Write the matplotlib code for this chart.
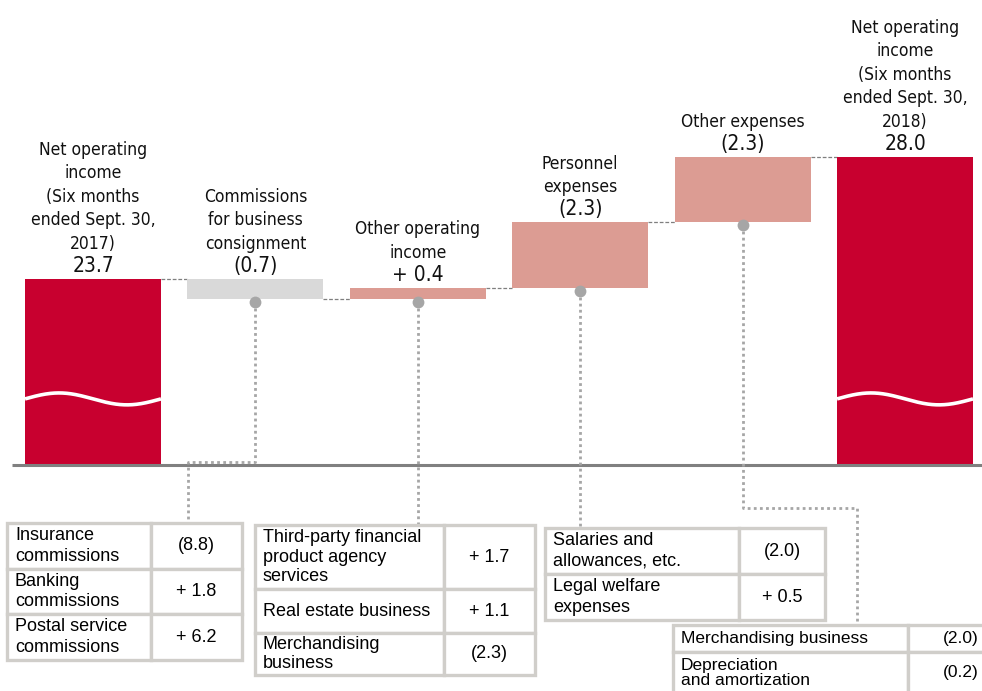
import numpy as np
import matplotlib
matplotlib.use("Agg")
import matplotlib.pyplot as plt
from matplotlib.patches import Rectangle
from matplotlib import font_manager as fm

# ---------------- data ----------------
categories = [
    "Net operating\nincome\n(Six months\nended Sept. 30,\n2017)",
    "Commissions\nfor business\nconsignment",
    "Other operating\nincome",
    "Personnel\nexpenses",
    "Other expenses",
    "Net operating\nincome\n(Six months\nended Sept. 30,\n2018)",
]
start_value = 23.7
changes = [-0.7, 0.4, 2.3, 2.3]
end_value = 28.0
value_labels = ["23.7", "(0.7)", "+ 0.4", "(2.3)", "(2.3)", "28.0"]

table1_items = ["Insurance\ncommissions", "Banking\ncommissions", "Postal service\ncommissions"]
table1_values = ["(8.8)", "+ 1.8", "+ 6.2"]
table2_items = ["Third-party financial\nproduct agency\nservices", "Real estate business",
                "Merchandising\nbusiness"]
table2_values = ["+ 1.7", "+ 1.1", "(2.3)"]
table3_items = ["Salaries and\nallowances, etc.", "Legal welfare\nexpenses"]
table3_values = ["(2.0)", "+ 0.5"]
table4_items = ["Merchandising business", "Depreciation\nand amortization"]
table4_values = ["(2.0)", "(0.2)"]

# ---------------- style ----------------
RED = "#C8002F"
PINK = "#DC9C93"
GREY_BAR = "#D9D9D9"
DOT = "#A6A6A6"
BORDER = "#D0CECA"
TABLE_FONT = ["Liberation Sans", "DejaVu Sans"]

# pick a condensed face if one is installed
cond = [f for f in fm.fontManager.ttflist
        if ("Condensed" in f.name or "Narrow" in f.name or f.stretch in ("condensed", "semi-condensed"))
        and f.weight in (400, "normal", "regular") and f.style == "normal"]
if cond:
    LABEL_FONT = {"fontproperties": fm.FontProperties(fname=cond[0].fname)}
else:
    LABEL_FONT = {"family": ["Liberation Sans", "DejaVu Sans"]}


def label_font(size):
    if "fontproperties" in LABEL_FONT:
        fp = LABEL_FONT["fontproperties"].copy()
        fp.set_size(size)
        return {"fontproperties": fp}
    return {"family": LABEL_FONT["family"], "fontsize": size}


W_PX, H_PX = 982, 691
fig = plt.figure(figsize=(W_PX / 100, H_PX / 100), dpi=100)
fig.patch.set_facecolor("white")

ax = fig.add_axes([0, 0, 1, 1])
ax.axis("off")
ax.set_xlim(-0.5727, 5.474)
k = 28.37  # px per unit
ax.set_ylim(start_value - 412 / k, start_value + 279 / k)
base = start_value - 186 / k  # broken-axis baseline
bw = 0.837

n = len(categories)
xs = np.arange(n)

# totals
tot_x = [xs[0], xs[-1]]
tot_v = [start_value, end_value]
ax.bar(tot_x, [v - base for v in tot_v], bottom=base, width=bw, color=RED, zorder=2)

# wave break marks
t = np.linspace(0, 1, 200)
for x in tot_x:
    ax.plot(x - bw / 2 + t * bw, base + 2.33 + 0.21 * np.sin(2 * np.pi * t),
            color="white", lw=2.6, zorder=3, solid_capstyle="butt")

# floating bars
levels = [start_value]
tops = [start_value]
bottoms = [base]
running = start_value
for i, c in enumerate(changes):
    new = running + c
    lo, hi = min(running, new), max(running, new)
    ax.bar(xs[i + 1], hi - lo, bottom=lo, width=bw,
           color=GREY_BAR if c < 0 else PINK, zorder=2)
    tops.append(hi)
    bottoms.append(lo)
    running = new
    levels.append(running)
tops.append(end_value)
bottoms.append(base)

# connectors
for i in range(n - 1):
    ax.plot([xs[i] + bw / 2, xs[i + 1] - bw / 2], [levels[i], levels[i]],
            color="#7F7F7F", lw=0.9, ls=(0, (3, 1.5)), zorder=1)

# baseline
ax.hlines(base, -0.5, ax.get_xlim()[1], color="#808080", lw=2.2, zorder=4)

# labels
for i in range(n):
    ax.annotate(value_labels[i], (xs[i], tops[i]), xytext=(0, 13),
                textcoords="offset pixels", ha="center", va="center",
                color="#111111", **label_font(15))
    ax.annotate(categories[i], (xs[i], tops[i]), xytext=(0, 26),
                textcoords="offset pixels", ha="center", va="bottom",
                linespacing=1.4, color="#111111", **label_font(12.5))

# ---------------- overlay (pixel coords, y down) ----------------
ov = fig.add_axes([0, 0, 1, 1], facecolor="none")
ov.set_xlim(0, W_PX)
ov.set_ylim(H_PX, 0)
ov.axis("off")


def to_px(x, y):
    dx, dy = ax.transData.transform((x, y))
    return ov.transData.inverted().transform((dx, dy))


dot_pts = []
for i in range(1, n - 1):
    px, py = to_px(xs[i], bottoms[i])
    dot_pts.append((px, py + 3))

paths = [
    [(None, None), ("x", 462), (188, 462), (188, 523)],
    [(None, None), ("x", 525)],
    [(None, None), ("x", 528)],
    [(None, None), ("x", 508), (857, 508), (857, 625)],
]
for (px, py), p in zip(dot_pts, paths):
    pts = [(px, py)]
    for a, b in p[1:]:
        pts.append((px if a == "x" else a, b))
    ov.plot([q[0] for q in pts], [q[1] for q in pts], color=DOT, lw=2.0,
            ls=(0, (1, 1.2)), zorder=5)
    ov.plot([px], [py], "o", ms=8.5, color=DOT, zorder=6, mec="none")


def draw_table(x0, y0, col_w, row_h, items, values, val_x=None, val_ha="center",
               ls=1.3, fs=13):
    y = y0
    for item, val, h in zip(items, values, row_h):
        x = x0
        for w in col_w:
            ov.add_patch(Rectangle((x, y), w, h, facecolor="white",
                                   edgecolor=BORDER, lw=2.4, zorder=7))
            x += w
        ov.text(x0 + 8, y + h / 2, item, ha="left", va="center", fontsize=fs,
                family=TABLE_FONT, linespacing=ls, zorder=8, color="black")
        vx = x0 + col_w[0] + col_w[1] / 2 if val_x is None else val_x
        ov.text(vx, y + h / 2, val, ha=val_ha,
                va="center", fontsize=fs, family=TABLE_FONT, zorder=8,
                color="black")
        y += h


draw_table(7, 523, [144, 91], [46, 45, 46], table1_items, table1_values)
draw_table(255, 525, [189, 91], [64, 44, 42], table2_items, table2_values, ls=1.2)
draw_table(545, 528, [194, 86], [46, 46], table3_items, table3_values)
draw_table(673, 625, [235, 118], [27, 42], table4_items, table4_values,
           val_x=979, val_ha="right", ls=1.0, fs=12.5)
# keep the table's frame running past the figure edge, as in the source
ov.add_patch(Rectangle((673, 694), 235, 20, facecolor="white", edgecolor=BORDER,
                       lw=2.4, zorder=6))

fig.savefig("out.png", dpi=100)
